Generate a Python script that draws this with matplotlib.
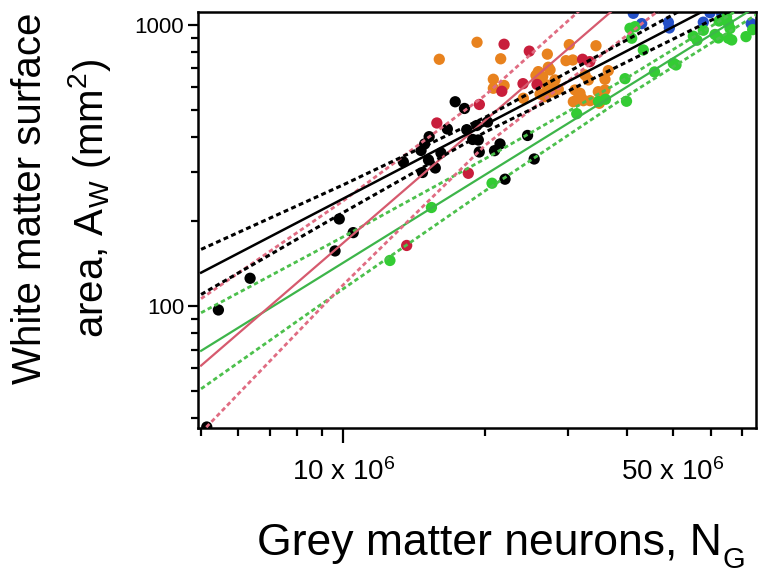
import matplotlib
matplotlib.use('Agg')
import matplotlib.pyplot as plt
import numpy as np
from matplotlib.ticker import FixedLocator, FixedFormatter, NullFormatter

plt.rcParams['font.family'] = ['Liberation Sans', 'DejaVu Sans']
plt.rcParams['mathtext.fontset'] = 'custom'
plt.rcParams['mathtext.rm'] = 'Liberation Sans'
plt.rcParams['mathtext.default'] = 'regular'

# data (neurons in millions, area in mm^2)
black_n = [5.14, 5.44, 6.35, 9.61, 9.81, 10.50, 13.41, 14.62, 14.72, 14.88, 15.16, 15.21, 15.67, 16.11,
           16.62, 17.27, 18.07, 18.27, 18.81, 19.18, 19.33, 19.42, 20.22, 20.92, 21.49, 22.02, 24.58, 25.39]
black_a = [37.1, 96.8, 125.5, 157, 204, 182.4, 325.5, 357.6, 298.6, 377.2, 330.8, 400.4, 309.8, 350.4,
           426.5, 533, 504.5, 424, 391.3, 438.7, 389.7, 353.2, 451.6, 357, 377.2, 282.6, 404.4, 333.5]

red_n = [13.63, 15.79, 18.41, 19.43, 21.68, 21.92, 24.04, 24.79, 25.74, 32.14, 33.29]
red_a = [164.2, 447.9, 296.6, 521.3, 580.8, 853.8, 618.2, 806.9, 614.2, 754.9, 740.2]

orange_n = [15.98, 19.21, 21.56, 27.07, 30.13, 34.32, 29.65, 30.64, 27.20, 27.43, 25.90, 25.61, 26.46,
            20.80, 21.92, 20.80, 26.99, 27.65, 28.56, 26.99, 27.69, 24.08, 26.12, 26.76, 30.98, 31.75,
            32.01, 31.24, 30.73, 32.27, 34.71, 35.86, 35.86, 36.44, 32.53, 33.06, 34.88, 33.34, 28.10]
orange_a = [754.9, 867.7, 758, 787.2, 851.1, 843.4, 746.4, 750.6, 707.2, 691.8, 682.2, 661.3, 654.6,
            640.8, 609.1, 595.3, 611.6, 600.2, 590.4, 578.9, 577.5, 548.3, 567.9, 555.6, 587.0, 571.3,
            548.3, 540.8, 533.3, 537.7, 578.9, 587.0, 640.8, 687.8, 664.0, 637.4, 526.4, 537.7, 637.4]

green_n = [12.56, 15.38, 20.67, 31.24, 34.74, 35.95, 39.54, 39.83, 40.51, 40.85, 41.52, 43.23, 45.66,
           50.05, 50.71, 55.17, 56.18, 57.93, 61.34, 62.34, 62.55, 64.88, 65.45, 65.99, 65.45, 66.54,
           71.34, 73.71]
green_a = [145.2, 224.1, 273.4, 483.4, 534.3, 544, 644, 535.2, 973, 897, 986, 814.7, 680.4,
           730.6, 720.6, 911.8, 882.3, 957.5, 925.0, 899, 1033, 1065, 1014, 971.7, 897, 884.4,
           908.8, 962.2]

blue_n = [41.17, 42.89, 48.85, 49.09, 57.93, 59.85, 63.38, 73.17]
blue_a = [1100, 1011, 1022, 975.7, 1023, 1106, 1094, 1011]

# fitted lines and confidence bands, read at these neuron counts (millions)
fit_n = [5, 75]
band_n = [5, 10, 20, 40, 75]
black_fit = [131.4, 1404]
black_hi = [159.0, 269.8, 469.4, 886.8, 1581]
black_lo = [109.9, 215.1, 415.8, 740.2, 1247]
red_fit = [61.37, 3113]
red_hi = [106.2, 236.6, 562.6, 1601, 4615]
red_lo = [35.44, 118.9, 373.5, 921.3, 2101]
green_fit = [69.27, 1161]
green_hi = [94.6, 176.3, 334.3, 649.9, 1240]
green_lo = [50.73, 115.1, 257.2, 560.8, 1087]

fig = plt.figure(figsize=(7.67, 5.77), dpi=100)
ax = fig.add_axes([198 / 767, 1 - 428 / 577, 557.7 / 767, 416 / 577])
ax.set_xscale('log')
ax.set_yscale('log')

m = 1e6
dot = dict(s=66, edgecolors='none', zorder=2)
ax.scatter(np.array(orange_n) * m, orange_a, color='#E8821E', **dot)
ax.scatter(np.array(red_n) * m, red_a, color='#C81E3C', **dot)
ax.scatter(np.array(black_n) * m, black_a, color='#000000', **dot)
ax.scatter(np.array(blue_n) * m, blue_a, color='#2450C8', **dot)
ax.scatter(np.array(green_n) * m, green_a, color='#33CC33', **dot)

fn = np.array(fit_n) * m
bn = np.array(band_n) * m
dash = (1.6, 1.1)
ax.plot(fn, green_fit, color='#3DB54A', lw=1.6, zorder=3)
ax.plot(bn, green_hi, color='#4CC04C', lw=2.0, dashes=dash, zorder=3)
ax.plot(bn, green_lo, color='#4CC04C', lw=2.0, dashes=dash, zorder=3)
ax.plot(fn, red_fit, color='#D65A6E', lw=1.6, zorder=3)
ax.plot(bn, red_hi, color='#E06C82', lw=2.0, dashes=dash, zorder=3)
ax.plot(bn, red_lo, color='#E06C82', lw=2.0, dashes=dash, zorder=3)
ax.plot(fn, black_fit, color='#000000', lw=1.8, zorder=4)
ax.plot(bn, black_hi, color='#000000', lw=2.2, dashes=dash, zorder=4)
ax.plot(bn, black_lo, color='#000000', lw=2.2, dashes=dash, zorder=4)

ax.set_xlim(4.925e6, 74.8e6)
ax.set_ylim(36.8, 1112)

# ticks
ax.xaxis.set_major_locator(FixedLocator([10e6, 50e6]))
ax.xaxis.set_major_formatter(FixedFormatter([r'10 x 10$^6$', r'50 x 10$^6$']))
ax.xaxis.set_minor_locator(FixedLocator([5e6, 6e6, 7e6, 8e6, 9e6, 20e6, 30e6, 40e6, 60e6, 70e6]))
ax.xaxis.set_minor_formatter(NullFormatter())
ax.yaxis.set_major_locator(FixedLocator([100, 1000]))
ax.yaxis.set_major_formatter(FixedFormatter(['100', '1000']))
ax.yaxis.set_minor_locator(FixedLocator([40, 50, 60, 70, 80, 90, 200, 300, 400, 500, 600, 700, 800, 900]))
ax.yaxis.set_minor_formatter(NullFormatter())

ax.tick_params(axis='x', which='major', length=11, width=1.6, direction='out', pad=11, labelsize=20)
ax.tick_params(axis='x', which='minor', length=6, width=1.6, direction='out')
ax.tick_params(axis='y', which='major', length=7, width=1.6, direction='out', pad=3, labelsize=16)
ax.tick_params(axis='y', which='minor', length=5, width=1.6, direction='out')
# the 50 x 10^6 mark carries a short tick like the minor ones
ax.xaxis.get_major_ticks()[1].tick1line.set_markersize(6)

for s in ax.spines.values():
    s.set_linewidth(1.8)

fig.text(722 / 767, 1 - 555 / 577, 'Grey matter neurons, N', fontsize=32,
         ha='right', va='baseline')
fig.text(722 / 767, 1 - 568 / 577, 'G', fontsize=21, ha='left', va='baseline')
fig.text(62 / 767, 1 - 198 / 577, 'White matter surface\narea, A$_W$ (mm$^2$)', fontsize=29,
         rotation=90, ha='center', va='center', multialignment='center', linespacing=1.45)

fig.savefig('out.png', dpi=100)
